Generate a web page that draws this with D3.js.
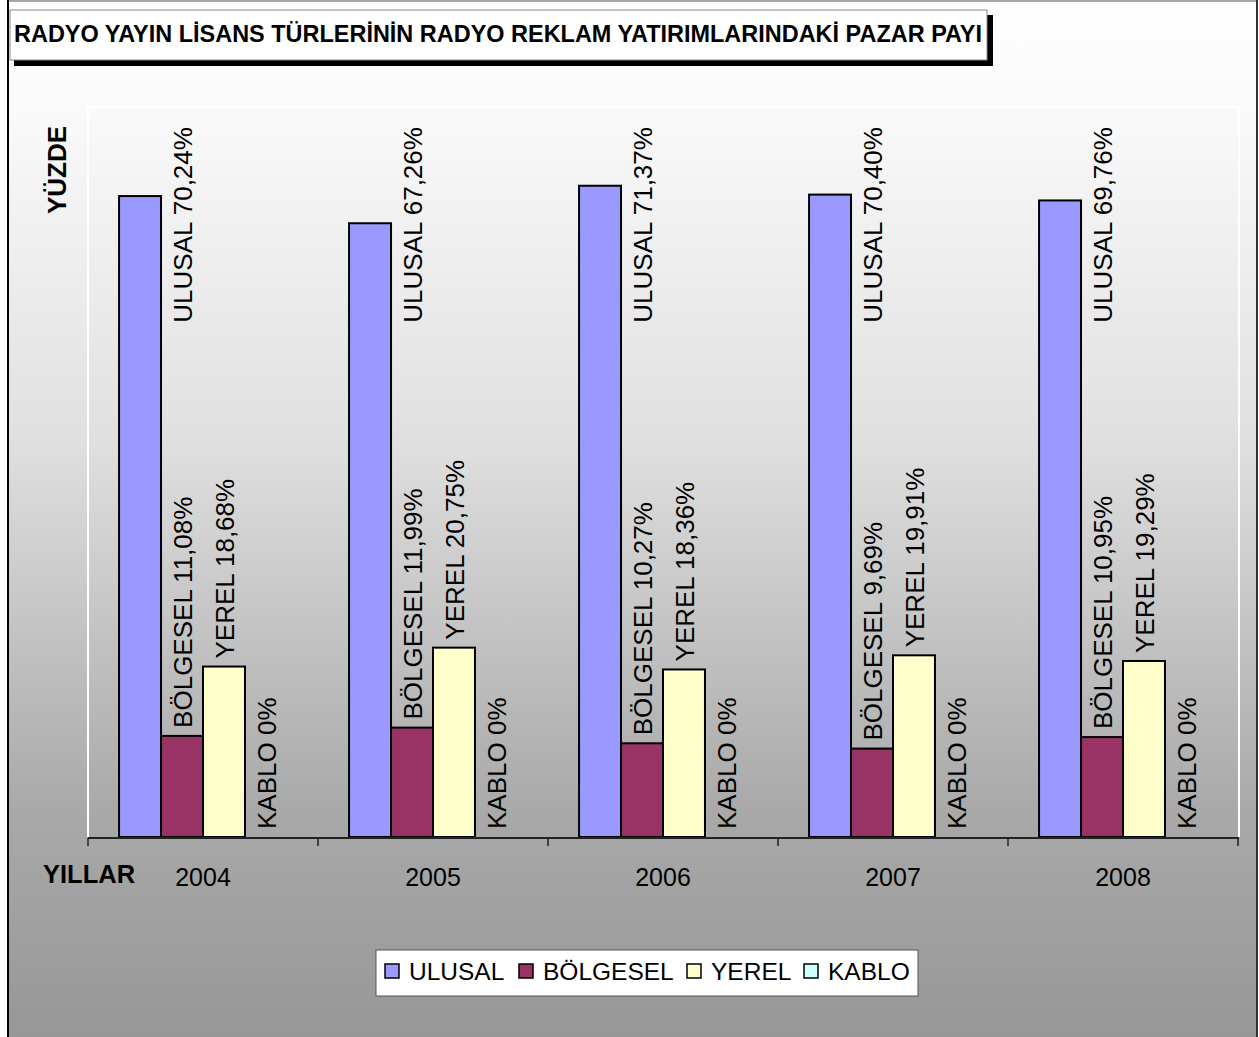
<!DOCTYPE html>
<html>
<head>
<meta charset="utf-8">
<script src="https://cdn.jsdelivr.net/npm/d3@7"></script>
<style>
  html, body { margin: 0; padding: 0; background: #ffffff; }
  svg { display: block; font-family: "Liberation Sans", Arial, sans-serif; }
</style>
</head>
<body>
<svg id="chart" width="1259" height="1037"></svg>
<script>
// Radio licence types: share of radio advertising spend (%)
const years = ["2004", "2005", "2006", "2007", "2008"];
const seriesNames = ["ULUSAL", "BÖLGESEL", "YEREL", "KABLO"];
const ulusal   = [70.24, 67.26, 71.37, 70.40, 69.76];
const bolgesel = [11.08, 11.99, 10.27, 9.69, 10.95];
const yerel    = [18.68, 20.75, 18.36, 19.91, 19.29];
const kablo    = [0, 0, 0, 0, 0];
const valueLabels = {
  ULUSAL:   ["70,24%", "67,26%", "71,37%", "70,40%", "69,76%"],
  "BÖLGESEL": ["11,08%", "11,99%", "10,27%", "9,69%", "10,95%"],
  YEREL:    ["18,68%", "20,75%", "18,36%", "19,91%", "19,29%"],
  KABLO:    ["0%", "0%", "0%", "0%", "0%"]
};
const seriesColors = ["#9999ff", "#993366", "#ffffcc", "#ccffff"];
const titleText = "RADYO YAYIN LİSANS TÜRLERİNİN RADYO REKLAM YATIRIMLARINDAKİ PAZAR PAYI";

const seriesValues = [ulusal, bolgesel, yerel, kablo];
const rows = [];
years.forEach((yr, i) => {
  seriesNames.forEach((s, j) => {
    rows.push({ year: yr, series: s, value: seriesValues[j][i], label: s + " " + valueLabels[s][i] });
  });
});

const svg = d3.select("#chart");
const W = 1259, H = 1037;

// background gradient
const defs = svg.append("defs");
const grad = defs.append("linearGradient").attr("id", "bg").attr("x1", 0).attr("y1", 0).attr("x2", 0).attr("y2", 1);
[[0, "#ffffff"], [0.1, "#fafafa"], [0.42, "#e0e0e0"], [0.78, "#a9a9a9"], [1, "#979797"]]
  .forEach(([o, c]) => grad.append("stop").attr("offset", o).attr("stop-color", c));

svg.append("rect").attr("x", 8).attr("y", 1).attr("width", 1249).attr("height", H).attr("fill", "url(#bg)");
// outer frame
svg.append("line").attr("x1", 8).attr("x2", 1257).attr("y1", 1).attr("y2", 1).attr("stroke", "#8a8a8a").attr("stroke-width", 1.5);
svg.append("line").attr("x1", 8).attr("x2", 8).attr("y1", 0).attr("y2", H).attr("stroke", "#000").attr("stroke-width", 2);
svg.append("line").attr("x1", 1257).attr("x2", 1257).attr("y1", 0).attr("y2", H).attr("stroke", "#333").attr("stroke-width", 2);

// title box with shadow
svg.append("rect").attr("x", 14).attr("y", 15).attr("width", 979).attr("height", 51).attr("fill", "#000");
svg.append("rect").attr("x", 10).attr("y", 10).attr("width", 977).attr("height", 50)
  .attr("fill", "#fff").attr("stroke", "#888").attr("stroke-width", 1);
svg.append("text").attr("x", 14).attr("y", 42)
  .attr("font-size", 23).attr("font-weight", "bold").attr("fill", "#000")
  .attr("textLength", 968).attr("lengthAdjust", "spacingAndGlyphs")
  .text(titleText);

// plot area
const plot = { left: 88, right: 1238, top: 107, bottom: 837 };
const x = d3.scaleBand().domain(years).range([plot.left, plot.right]).paddingInner(0).paddingOuter(0);
const xs = d3.scaleBand().domain(seriesNames).range([0, x.bandwidth()]).paddingInner(0).paddingOuter(0.74);
const y = d3.scaleLinear().domain([0, 80]).range([plot.bottom, plot.top]);
const color = d3.scaleOrdinal().domain(seriesNames).range(seriesColors);

// plot area border (white)
svg.append("path")
  .attr("d", `M${plot.left},${plot.bottom} V${plot.top} H${plot.right + 1} V${plot.bottom}`)
  .attr("fill", "none").attr("stroke", "#ffffff").attr("stroke-width", 2);

// bars
svg.append("g").selectAll("rect").data(rows).join("rect")
  .attr("x", d => x(d.year) + xs(d.series))
  .attr("y", d => y(d.value))
  .attr("width", xs.bandwidth())
  .attr("height", d => y(0) - y(d.value))
  .attr("fill", d => color(d.series))
  .attr("stroke", "#000").attr("stroke-width", 2);

// x axis line and ticks at category boundaries
const axis = svg.append("g");
axis.append("line").attr("x1", plot.left).attr("x2", plot.right + 1)
  .attr("y1", plot.bottom + 1).attr("y2", plot.bottom + 1).attr("stroke", "#222").attr("stroke-width", 2);
const boundaries = years.map(yr => x(yr)).concat([x(years[years.length - 1]) + x.bandwidth()]);
axis.selectAll(".tick").data(boundaries).join("line")
  .attr("x1", d => d).attr("x2", d => d)
  .attr("y1", plot.bottom + 1).attr("y2", plot.bottom + 9)
  .attr("stroke", "#222").attr("stroke-width", 1.5);
axis.selectAll(".yr").data(years).join("text")
  .attr("x", d => x(d) + x.bandwidth() / 2).attr("y", 886)
  .attr("text-anchor", "middle").attr("font-size", 25).attr("fill", "#000")
  .text(d => d);

// axis titles
svg.append("text").attr("x", 43).attr("y", 883)
  .attr("font-size", 25.5).attr("font-weight", "bold").attr("fill", "#000").text("YILLAR");
svg.append("text").attr("transform", "translate(66,170) rotate(-90)")
  .attr("text-anchor", "middle").attr("font-size", 26).attr("font-weight", "bold").attr("fill", "#000")
  .text("YÜZDE");

// data labels, rotated
const labelG = svg.append("g");
labelG.selectAll("text").data(rows).join("text")
  .attr("transform", d => {
    const col = d.series === "ULUSAL" ? "BÖLGESEL" : d.series;
    const cx = x(d.year) + xs(col) + xs.bandwidth() / 2 + 1;
    const cy = d.series === "ULUSAL" ? y(77.8) : y(d.value) - 8;
    return `translate(${cx},${cy}) rotate(-90)`;
  })
  .attr("text-anchor", d => d.series === "ULUSAL" ? "end" : "start")
  .attr("dy", "0.35em")
  .attr("font-size", 26).attr("fill", "#000")
  .text(d => d.label);

// legend
const legend = svg.append("g");
legend.append("rect").attr("x", 376).attr("y", 950).attr("width", 542).attr("height", 46)
  .attr("fill", "#fff").attr("stroke", "#555").attr("stroke-width", 1);
const legendX = [385, 519, 687, 804];
const items = legend.selectAll("g").data(seriesNames).join("g")
  .attr("transform", (d, i) => `translate(${legendX[i]},964)`);
items.append("rect").attr("width", 14).attr("height", 14)
  .attr("fill", d => color(d)).attr("stroke", "#000").attr("stroke-width", 1.5);
items.append("text").attr("x", 24).attr("y", 16)
  .attr("font-size", 24.5).attr("fill", "#000").text(d => d);
</script>
</body>
</html>
